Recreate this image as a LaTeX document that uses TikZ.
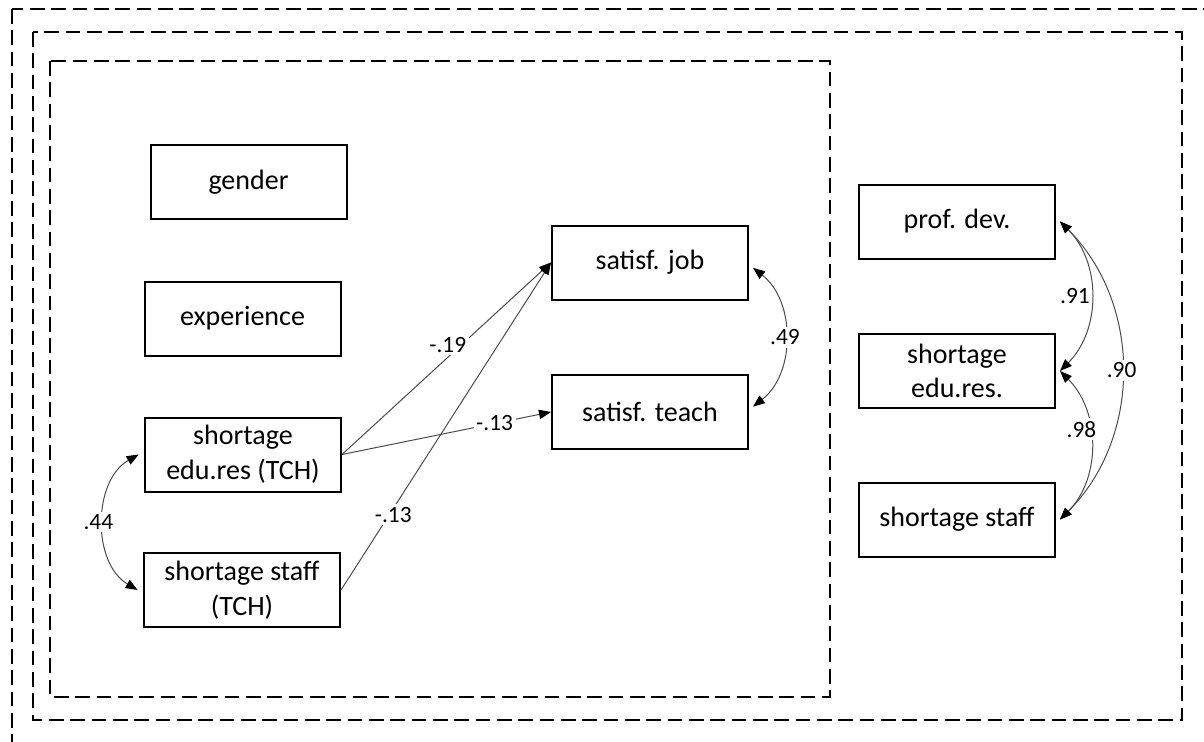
\documentclass[tikz,border=0pt]{standalone}
\usepackage{fontspec}
\setmainfont{Carlito}
\usetikzlibrary{arrows.meta}
\begin{document}
\begin{tikzpicture}[x=0.75pt,y=-0.75pt,
  var/.style={draw=black,line width=1.5pt,minimum width=147pt,minimum height=55.5pt,
    inner sep=0pt,align=center,font=\fontsize{21}{26}\selectfont},
  frame/.style={draw=black,line width=1.5pt,dash pattern=on 11pt off 5pt},
  path/.style={draw=black!70,line width=0.75pt,-{Triangle[length=9pt,width=7pt,fill=black,color=black]}},
  cov/.style={draw=black!70,line width=0.75pt,{Triangle[length=9pt,width=7pt,fill=black,color=black]}-{Triangle[length=9pt,width=7pt,fill=black,color=black]}},
  coef/.style={fill=white,inner sep=2pt,text=black,font=\fontsize{17.5}{21}\selectfont}]
\useasboundingbox (0,0) rectangle (1204,742);
\clip (0,0) rectangle (1204,742);
\fill[white] (0,0) rectangle (1204,742);

% nested dashed frames
\draw[frame] (12,9) rectangle (1230,770);
\draw[frame] (33,32) rectangle (1182,720);
\draw[frame] (50,61) rectangle (830,697);

% observed variables
\node[var] (gender) at (248.5,182) {gender};
\node[var] (exper)  at (242.5,318.5) {experience};
\node[var] (edut)   at (243,454.5) {shortage\\edu.res (TCH)};
\node[var] (stafft) at (242,590) {shortage staff\\(TCH)};
\node[var] (job)    at (650,262.5) {satisf. job};
\node[var] (teach)  at (650,412) {satisf. teach};
\node[var] (prof)   at (957,221.5) {prof. dev.};
\node[var] (edus)   at (957,371) {shortage\\edu.res.};
\node[var] (staffs) at (957,519.5) {shortage staff};

% regression paths
\draw[path] (edut.east) -- node[coef,pos=0.57,xshift=-10pt] {-.19} (job.west);
\draw[path] (edut.east) -- node[coef,pos=0.73] {-.13} (teach.west);
\draw[path] (stafft.east) -- node[coef,pos=0.23,xshift=3pt] {-.13} (job.west);

% correlations
\draw[cov] ([xshift=-4pt]edut.west) to[bend right=60] node[coef,midway,xshift=-4pt] {.44} ([xshift=-4pt]stafft.west);
\draw[cov] ([xshift=3pt,yshift=-4pt]job.east) to[bend left=52] node[coef,midway] {.49} ([xshift=3pt,yshift=4pt]teach.east);
\draw[cov] ([xshift=3pt]prof.east) to[bend left=45] node[coef,midway,xshift=-12pt] {.91} ([xshift=3pt]edus.east);
\draw[cov] ([xshift=3pt]edus.east) to[bend left=45] node[coef,pos=0.4,xshift=-6pt] {.98} ([xshift=3pt]staffs.east);
\draw[cov] ([xshift=3pt]prof.east) to[bend left=45] node[coef,midway] {.90} ([xshift=3pt]staffs.east);
\end{tikzpicture}
\end{document}
